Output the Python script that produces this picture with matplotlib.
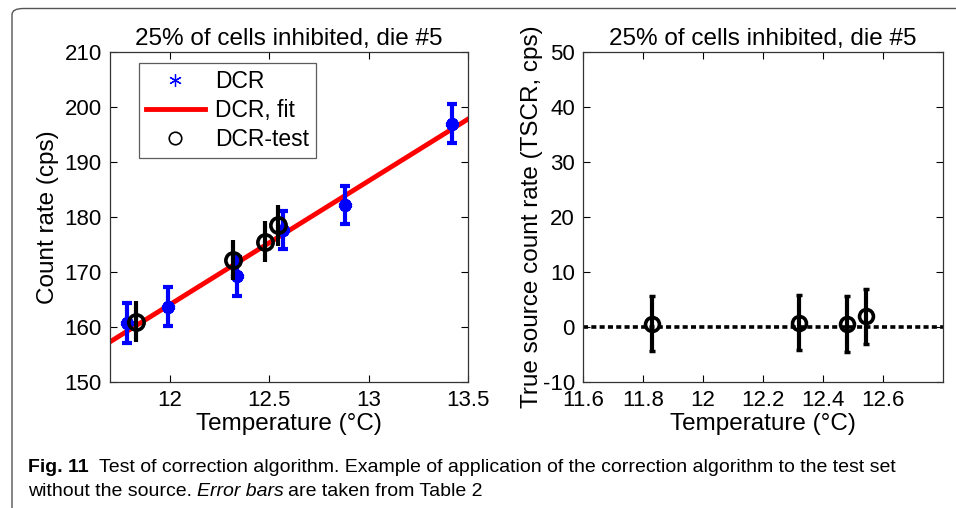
import matplotlib
matplotlib.use("Agg")
import matplotlib.pyplot as plt
from matplotlib.lines import Line2D
from matplotlib.patches import FancyBboxPatch
import numpy as np

plt.rcParams['font.family'] = ['Liberation Sans', 'DejaVu Sans']
plt.rcParams['axes.unicode_minus'] = False

# ---- data ----
dcr_temp = [11.786, 11.99, 12.34, 12.57, 12.88, 13.42]
dcr_rate = [160.7, 163.7, 169.2, 177.6, 182.2, 197.0]
dcr_err = [3.6, 3.5, 3.5, 3.5, 3.5, 3.5]

fit_slope = 22.5
fit_intercept = -105.95

test_temp = [11.83, 12.32, 12.48, 12.545]
test_rate = [161.0, 172.2, 175.5, 178.5]
test_err = [3.7, 3.7, 3.7, 3.7]

tscr_value = [0.6, 0.8, 0.6, 2.0]
tscr_err = [5.0, 5.0, 5.1, 5.0]

left_xticks = [12, 12.5, 13, 13.5]
left_yticks = [150, 160, 170, 180, 190, 200, 210]
right_xticks = [11.6, 11.8, 12, 12.2, 12.4, 12.6]
right_yticks = [-10, 0, 10, 20, 30, 40, 50]

title = "25% of cells inhibited, die #5"

fig = plt.figure(figsize=(9.56, 5.08), dpi=100)

# rounded frame border
frame = FancyBboxPatch((12/956, -0.2), 1.2, 1.2 - 8.5/508,
                       boxstyle="round,pad=0,rounding_size=0.012",
                       transform=fig.transFigure, fill=False,
                       edgecolor='#555555', linewidth=1.0, clip_on=False)
fig.patches.append(frame)

FT = 16     # tick labels
FL = 17.5   # axis labels / titles

def style(ax):
    ax.tick_params(direction='in', top=True, right=True, length=5,
                   width=0.8, labelsize=FT, pad=6)
    for s in ax.spines.values():
        s.set_linewidth(0.9)
        s.set_color('#333333')

# ---- left axes ----
ax1 = fig.add_axes([110/956, 1 - 382/508, 358/956, 330/508])
xs = np.array([11.7, 13.5])
ax1.plot(xs, fit_slope * xs + fit_intercept, color='red', lw=3.5, zorder=2)
ax1.errorbar(dcr_temp, dcr_rate, yerr=dcr_err, fmt='none', ecolor='blue',
             elinewidth=3, capsize=3.5, capthick=3, zorder=3)
ax1.plot(dcr_temp, dcr_rate, ls='none', marker=(6, 2, 0), ms=9, mew=4,
         color='blue', zorder=4)
ax1.errorbar(test_temp, test_rate, yerr=test_err, fmt='none', ecolor='black',
             elinewidth=3, capsize=0, zorder=5)
ax1.plot(test_temp, test_rate, ls='none', marker='o', ms=11, mew=2.6,
         mfc='none', mec='black', zorder=6)
ax1.set_xlim(11.7, 13.5)
ax1.set_ylim(150, 210)
ax1.set_xticks(left_xticks)
ax1.set_xticklabels(['12', '12.5', '13', '13.5'])
ax1.set_yticks(left_yticks)
ax1.set_xlabel('Temperature (°C)', fontsize=FL, labelpad=1)
ax1.set_ylabel('Count rate (cps)', fontsize=FL, labelpad=4)
ax1.set_title(title, fontsize=FL, pad=5)
style(ax1)

handles = [
    Line2D([], [], ls='none', marker=(6, 2, 0), ms=9, mew=0.9, color='blue'),
    Line2D([], [], color='red', lw=3.5),
    Line2D([], [], ls='none', marker='o', ms=9, mew=1.2, mfc='none', mec='black'),
]
leg = ax1.legend(handles, ['DCR', 'DCR, fit', 'DCR-test'], loc='upper left',
                 bbox_to_anchor=(0.08, 0.966), fontsize=16.5, frameon=True,
                 fancybox=False, edgecolor='#333333', handlelength=2.6,
                 handletextpad=0.45, borderpad=0.3, labelspacing=0.27,
                 borderaxespad=0)
leg.get_frame().set_linewidth(0.9)

# ---- right axes ----
ax2 = fig.add_axes([583.3/956, 1 - 382/508, 359.4/956, 330/508])
ax2.axhline(0, color='black', lw=2.6, ls=(0, (1.4, 0.9)), zorder=2)
ax2.errorbar(test_temp, tscr_value, yerr=tscr_err, fmt='none', ecolor='black',
             elinewidth=3, capsize=2, capthick=2.5, zorder=3)
ax2.plot(test_temp, tscr_value, ls='none', marker='o', ms=10, mew=2.6,
         mfc='none', mec='black', zorder=4)
ax2.set_xlim(11.6, 12.8)
ax2.set_ylim(-10, 50)
ax2.set_xticks(right_xticks)
ax2.set_xticklabels(['11.6', '11.8', '12', '12.2', '12.4', '12.6'])
ax2.set_yticks(right_yticks)
ax2.set_xlabel('Temperature (°C)', fontsize=FL, labelpad=1)
ax2.set_ylabel('True source count rate (TSCR, cps)', fontsize=FL, labelpad=0)
ax2.set_title(title, fontsize=FL, pad=5)
style(ax2)

# ---- caption ----
cap_fam = ['Liberation Sans Narrow', 'Liberation Sans', 'DejaVu Sans']
CF = 14.0
y1 = 1 - 467/508
y2 = 1 - 492/508
fig.text(28/956, y1, 'Fig. 11', fontsize=CF, fontweight='bold',
         family=cap_fam, va='center', ha='left')
fig.text(99/956, y1,
         'Test of correction algorithm. Example of application of the correction algorithm to the test set',
         fontsize=CF, family=cap_fam, va='center', ha='left')
t2 = fig.text(28/956, y2, 'without the source. ', fontsize=CF,
              family=cap_fam, va='center', ha='left')
fig.canvas.draw()
bb = t2.get_window_extent()
t3 = fig.text(bb.x1 / fig.bbox.width, y2, 'Error bars', fontsize=CF,
              family=cap_fam, style='italic', va='center', ha='left')
fig.canvas.draw()
bb3 = t3.get_window_extent()
fig.text(bb3.x1 / fig.bbox.width + 0.004, y2, 'are taken from Table 2',
         fontsize=CF, family=cap_fam, va='center', ha='left')

fig.savefig('out.png', dpi=100)
